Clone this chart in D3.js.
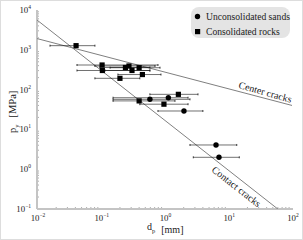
<!DOCTYPE html>
<html>
<head>
<meta charset="utf-8">
<script src="https://cdn.jsdelivr.net/npm/d3@7"></script>
<style>
body { margin: 0; background: #fff; }
text { font-family: "Liberation Serif", "DejaVu Serif", serif; fill: #222; }
</style>
</head>
<body>
<script>
// unconsolidated sands (circles): grain size d_p [mm], p_y [MPa], error bar range
var sandD    = [0.59, 1.15, 2.02, 6.43, 7.16];
var sandP    = [57, 62.5, 29, 4.06, 1.99];
var sandDmin = [0.156, 0.156, 0.79, 2.51, 2.83];
var sandDmax = [2.51, 2.34, 4.0, 13.6, 14.9];

// consolidated rocks (squares)
var rockD    = [0.041, 0.105, 0.106, 0.244, 0.277, 0.40, 0.309, 0.45, 0.20, 0.40, 1.65, 0.98];
var rockP    = [1270, 415, 302, 359, 392, 355, 302, 239, 192, 52, 76, 43];
var rockDmin = [0.016, 0.0424, 0.0424, 0.097, 0.081, 0.14, 0.117, 0.186, 0.081, 0.156, 0.59, 0.41];
var rockDmax = [0.081, 0.79, 0.59, 0.59, 0.71, 0.85, 0.59, 0.88, 0.41, 1.46, 3.35, 2.34];

// fitted power-law lines: p = a * d^b
var centerLine  = { a: 40 * Math.pow(100, 0.42), b: -0.42 };
var contactLine = { a: 5600 * Math.pow(0.01, 1.257), b: -1.257 };

var xTicks = [0.01, 0.1, 1, 10, 100];
var xTickExp = ["\u22122", "\u22121", "0", "1", "2"];
var yTicks = [0.1, 1, 10, 100, 1000, 10000];
var yTickExp = ["\u22121", "0", "1", "2", "3", "4"];

var W = 303, H = 240;
var svg = d3.select("body").append("svg").attr("width", W).attr("height", H);

svg.append("rect").attr("x", 0.5).attr("y", 0.5).attr("width", W - 1).attr("height", H - 1)
  .attr("fill", "#fff").attr("stroke", "#ddd");

var x = d3.scaleLog().domain([0.01, 100]).range([37, 292]);
var y = d3.scaleLog().domain([0.1, 10000]).range([209, 10]);

// minor ticks
function minors(dom) {
  var out = [];
  for (var e = Math.log10(dom[0]); e < Math.log10(dom[1]); e++) {
    for (var k = 2; k <= 9; k++) out.push(k * Math.pow(10, e));
  }
  return out;
}
svg.append("g").selectAll("line").data(minors(x.domain())).enter().append("line")
  .attr("x1", function (d) { return x(d); }).attr("x2", function (d) { return x(d); })
  .attr("y1", 209).attr("y2", 207).attr("stroke", "#999").attr("stroke-width", 0.8);
svg.append("g").selectAll("line").data(minors(y.domain())).enter().append("line")
  .attr("y1", function (d) { return y(d); }).attr("y2", function (d) { return y(d); })
  .attr("x1", 37).attr("x2", 39).attr("stroke", "#999").attr("stroke-width", 0.8);

// axis lines
svg.append("line").attr("x1", 37).attr("x2", 37).attr("y1", 10).attr("y2", 209)
  .attr("stroke", "#c4c4c4").attr("stroke-width", 2);
svg.append("line").attr("x1", 37).attr("x2", 293).attr("y1", 209).attr("y2", 209)
  .attr("stroke", "#c4c4c4").attr("stroke-width", 2);

// tick labels
var xl = svg.append("g").selectAll("text").data(xTicks).enter().append("text")
  .attr("x", function (d) { return x(d) + 1; }).attr("y", 221)
  .attr("text-anchor", "middle").attr("font-size", 8.8);
xl.append("tspan").text("10");
xl.append("tspan").attr("dy", -4).attr("font-size", 5.5).text(function (d, i) { return xTickExp[i]; });

var yl = svg.append("g").selectAll("text").data(yTicks).enter().append("text")
  .attr("x", 31).attr("y", function (d) { return y(d) + 3; })
  .attr("text-anchor", "end").attr("font-size", 8.8);
yl.append("tspan").text("10");
yl.append("tspan").attr("dy", -4).attr("font-size", 5.5).text(function (d, i) { return yTickExp[i]; });

// axis titles
var xt = svg.append("text").attr("x", 147).attr("y", 230).attr("font-size", 10);
xt.append("tspan").text("d");
xt.append("tspan").attr("dy", 3).attr("font-size", 6.5).text("p");
xt.append("tspan").attr("dx", 6).text("[mm]");

var yt = svg.append("text").attr("transform", "translate(16,133) rotate(-90)").attr("font-size", 10.5);
yt.append("tspan").text("p");
yt.append("tspan").attr("dy", 3).attr("font-size", 6.5).text("y");
yt.append("tspan").attr("dy", -3).attr("dx", 7).text("[MPa]");

// fitted lines
svg.append("clipPath").attr("id", "clip").append("rect")
  .attr("x", 37).attr("y", 10).attr("width", 256).attr("height", 199);
var line = d3.line().x(function (d) { return x(d[0]); }).y(function (d) { return y(d[1]); });
[centerLine, contactLine].forEach(function (f) {
  var pts = [0.01, 100].map(function (d) { return [d, f.a * Math.pow(d, f.b)]; });
  svg.append("path").datum(pts).attr("d", line).attr("clip-path", "url(#clip)")
    .attr("fill", "none").attr("stroke", "#808080").attr("stroke-width", 1);
});

// line labels
var cAng = Math.atan2(y(centerLine.a * Math.pow(100, centerLine.b)) - y(centerLine.a * Math.pow(0.01, centerLine.b)), 255) * 180 / Math.PI;
svg.append("text").attr("font-size", 10)
  .attr("transform", "translate(238,88) rotate(" + (cAng + 1) + ")").text("Center cracks");
var kAng = Math.atan2(y(0.1) - y(contactLine.a * Math.pow(0.01, contactLine.b)), x(Math.pow(0.1 / contactLine.a, 1 / contactLine.b)) - 37) * 180 / Math.PI;
svg.append("text").attr("font-size", 10)
  .attr("transform", "translate(211,171) rotate(" + kAng + ")").text("Contact cracks");

// error bars + markers
function drawSeries(D, P, Dmin, Dmax, shape) {
  var rows = D.map(function (d, i) { return { d: d, p: P[i], lo: Dmin[i], hi: Dmax[i] }; });
  var g = svg.append("g");
  g.selectAll(".eb").data(rows).enter().append("line")
    .attr("x1", function (r) { return x(r.lo); }).attr("x2", function (r) { return x(r.hi); })
    .attr("y1", function (r) { return y(r.p); }).attr("y2", function (r) { return y(r.p); })
    .attr("stroke", "#111").attr("stroke-width", 0.6);
  g.selectAll(".cap").data(rows.flatMap(function (r) { return [[r.lo, r.p], [r.hi, r.p]]; })).enter()
    .append("line")
    .attr("x1", function (c) { return x(c[0]); }).attr("x2", function (c) { return x(c[0]); })
    .attr("y1", function (c) { return y(c[1]) - 1; }).attr("y2", function (c) { return y(c[1]) + 1; })
    .attr("stroke", "#111").attr("stroke-width", 0.8);
  if (shape === "circle") {
    g.selectAll(".m").data(rows).enter().append("circle")
      .attr("cx", function (r) { return x(r.d); }).attr("cy", function (r) { return y(r.p); })
      .attr("r", 2.7).attr("fill", "#000");
  } else {
    g.selectAll(".m").data(rows).enter().append("rect")
      .attr("x", function (r) { return x(r.d) - 2.6; }).attr("y", function (r) { return y(r.p) - 2.6; })
      .attr("width", 5.2).attr("height", 5.2).attr("fill", "#000");
  }
}
drawSeries(rockD, rockP, rockDmin, rockDmax, "square");
drawSeries(sandD, sandP, sandDmin, sandDmax, "circle");

// legend
var lg = svg.append("g");
lg.append("rect").attr("x", 191).attr("y", 7).attr("width", 99).attr("height", 31).attr("rx", 8)
  .attr("fill", "#e4e4e4");
lg.append("circle").attr("cx", 197.5).attr("cy", 16.5).attr("r", 2.7).attr("fill", "#000");
lg.append("rect").attr("x", 195).attr("y", 29).attr("width", 5.2).attr("height", 5.2).attr("fill", "#000");
lg.append("text").attr("x", 206).attr("y", 20).attr("font-size", 9.6).text("Unconsolidated sands");
lg.append("text").attr("x", 206).attr("y", 35).attr("font-size", 9.6).text("Consolidated rocks");
</script>
</body>
</html>
